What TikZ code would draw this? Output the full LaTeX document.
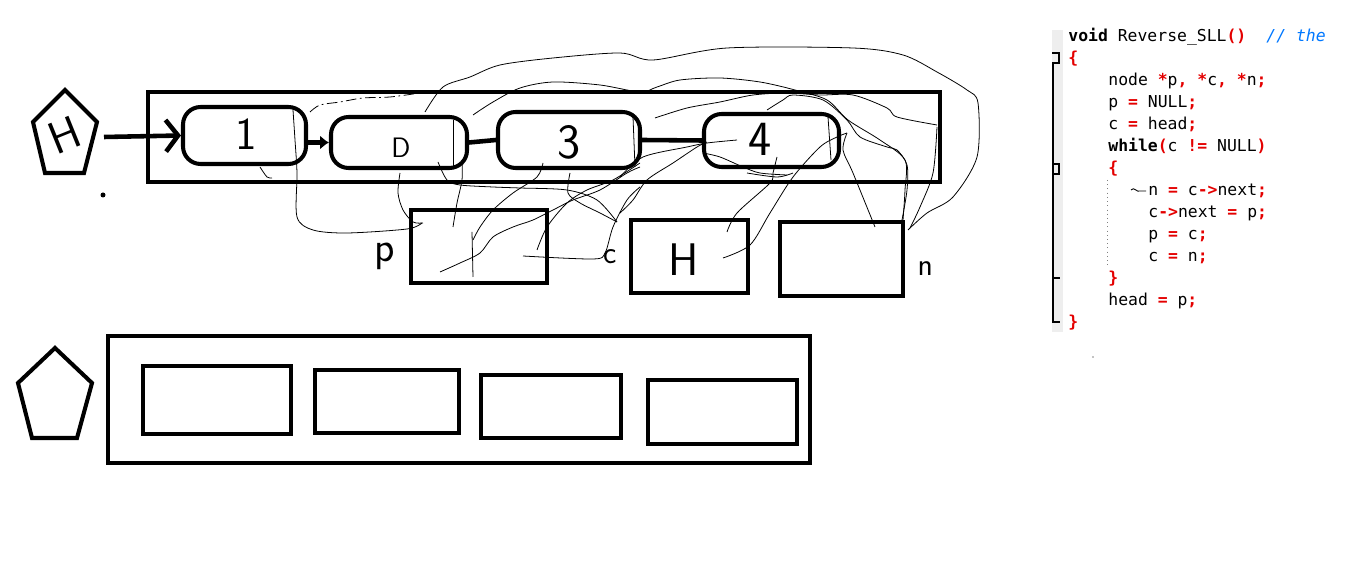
\documentclass[tikz,border=0pt]{standalone}
\usepackage{fontspec}
\setmonofont{DejaVu Sans Mono}
\usetikzlibrary{positioning,arrows.meta}
\definecolor{opred}{RGB}{228,0,0}
\definecolor{cmtblue}{RGB}{0,120,255}
\definecolor{gutgray}{RGB}{238,238,238}
\newcommand{\op}[1]{\textcolor{opred}{\textbf{#1}}}
\tikzset{
  heavy/.style={draw, line width=2.3pt, inner sep=0pt},
  cell/.style={heavy, rounded corners=10pt},
  hand/.style={font=\sffamily\fontsize{#1}{#1}\selectfont, inner sep=0pt},
  link/.style={line width=2.6pt},
  scribble/.style={line width=0.45pt, line join=round},
  codeline/.style={anchor=base west, inner sep=0pt,
    font=\ttfamily\fontsize{9.35}{11}\selectfont},
}

\begin{document}
\begin{tikzpicture}[x=0.02cm, y=-0.02cm]
  \fill[white] (0,0) rectangle (1360,573);
  \useasboundingbox (0,0) rectangle (1360,573);

  % head pentagon and arrow into the list
  \draw[line width=2.3pt] (65,90) -- (97,122) -- (84,173) -- (45,173) -- (33,122) -- cycle;
  \node[hand=26, rotate=22] (hlabel) at (65,135) {H};
  \fill (103,195) circle (2.5);
  \coordinate (hstart) at (104,137);

  % list before reversing
  \node[heavy, minimum width=15.84cm, minimum height=1.8cm] (top) at (544,137) {};
  \node[cell, minimum width=2.46cm, minimum height=1.14cm] (n1) at (244.5,135.5) {};
  \node[cell, minimum width=2.72cm, minimum height=1.02cm] (n2) at (399,142.5) {};
  \node[cell, minimum width=2.84cm, minimum height=1.12cm] (n3) at (569,140) {};
  \node[cell, minimum width=2.70cm, minimum height=1.06cm] (n4) at (771.5,140.5) {};
  \node[hand=26] (one) at (246,134) {1};
  \node[hand=16] (two) at (401,148) {D};
  \node[hand=28] (three) at (569,142) {3};
  \node[hand=28] (four) at (760,139) {4};

  \draw[link, -{Straight Barb[length=7pt, width=18pt]}] (hstart) -- (n1.west);
  \draw[link, -{Latex[length=5pt, width=8pt]}] (n1.east |- n2.west) -- (n2.west);
  \draw[link] (n2.east) -- (n3.west);
  \draw[link] (n3.east) -- (n4.west);

  % pointers p, c, n
  \node[heavy, minimum width=2.72cm, minimum height=1.46cm] (pbox) at (479,246.5) {};
  \node[heavy, minimum width=2.34cm, minimum height=1.46cm] (cbox) at (689.5,256.5) {};
  \node[heavy, minimum width=2.46cm, minimum height=1.48cm] (nbox) at (841.5,259) {};
  \node[hand=24, left=8pt of pbox.west, yshift=-0.2cm] (plabel) {p};
  \node[hand=18, left=7pt of cbox.west] (clabel) {c};
  \node[hand=18, right=7pt of nbox.east, yshift=-0.2cm] (nlabel) {n};
  \node[hand=26] (cval) at (684,260) {H};

  % scribbles
  \draw[scribble, dash pattern=on 6pt off 2pt on 1pt off 2pt] plot[smooth] coordinates {(310,112) (320,105) (340,102) (363,98) (390,97) (420,93)};
  \draw[scribble] plot[smooth] coordinates {(425,112) (443,87) (470,77) (500,65) (553,58) (620,53) (653,60) (727,48) (853,48) (903,55) (937,72) (967,90) (978,103) (977,157) (953,197) (927,213) (908,230)};
  \draw[scribble] plot[smooth] coordinates {(473,115) (493,102) (520,88) (553,82) (600,85) (640,92) (657,87) (680,80) (720,78) (760,82) (795,90) (827,100) (848,120) (880,140) (905,160) (905,190) (903,220)};
  \draw[scribble] plot[smooth] coordinates {(655,118) (687,108) (720,102) (753,95) (787,93) (820,95) (853,95) (887,108) (897,117) (937,125)};
  \draw[scribble] plot[smooth] coordinates {(767,110) (783,100) (793,95) (823,100) (847,120) (860,137) (887,147) (897,150) (907,165) (907,190) (902,220)};
  \draw[scribble] plot[smooth] coordinates {(875,227) (853,173) (843,150) (847,133)};
  \draw[scribble] plot[smooth] coordinates {(723,258) (750,245) (770,213) (793,177) (820,147) (837,137) (847,133)};
  \draw[scribble] plot[smooth] coordinates {(727,232) (737,213) (770,183) (773,173) (777,157)};
  \draw[scribble] plot[smooth] coordinates {(747,173) (777,177) (793,173)};
  \draw[scribble] plot[smooth] coordinates {(620,177) (643,157) (687,147) (707,143) (737,140)};
  \draw[scribble] plot[smooth] coordinates {(703,153) (720,157) (743,167) (760,173) (787,175)};
  \draw[scribble] plot[smooth] coordinates {(620,213) (633,200) (647,180) (673,163) (697,147) (707,142)};
  \draw[scribble] (633,117) -- (635,167);
  \draw[scribble] (828,117) -- (831,160);
  \draw[scribble] plot[smooth] coordinates {(910,228) (920,207) (933,173) (937,127)};
  \draw[scribble] plot[smooth] coordinates {(293,110) (295,140) (297,173) (297,217) (313,230) (347,233) (407,229) (422,223)};
  \draw[scribble] plot[smooth] coordinates {(400,173) (398,193) (403,210) (413,222) (423,223)};
  \draw[scribble] plot[smooth] coordinates {(260,167) (267,177) (272,178)};
  \draw[scribble] (453,120) -- (453,167);
  \draw[scribble] plot[smooth] coordinates {(462,160) (462,180) (457,203) (453,227)};
  \draw[scribble] plot[smooth] coordinates {(438,162) (447,180) (460,185) (493,187) (520,188) (567,190) (597,200) (617,222)};
  \draw[scribble] plot[smooth] coordinates {(543,163) (537,177) (513,193) (493,210) (480,227) (473,240)};
  \draw[scribble] (472,232) -- (473,277);
  \draw[scribble] plot[smooth] coordinates {(440,272) (460,263) (480,253) (493,237) (513,227) (533,220) (553,210) (573,200) (600,190) (627,173) (640,167)};
  \draw[scribble] plot[smooth] coordinates {(537,250) (547,227) (567,203) (587,190) (613,180) (640,163)};
  \draw[scribble] plot[smooth] coordinates {(570,173) (568,193) (580,203) (600,213) (617,222)};
  \draw[scribble] plot[smooth] coordinates {(523,256) (593,259) (605,253) (613,227) (627,200) (640,187)};

  % empty list below
  \draw[line width=2.3pt] (55,348) -- (92,383) -- (77,438) -- (32,438) -- (18,383) -- cycle;
  \node[heavy, minimum width=14.04cm, minimum height=2.54cm] (bottom) at (459,399.5) {};
  \node[heavy, minimum width=2.96cm, minimum height=1.36cm] (b1) at (217,400) {};
  \node[heavy, minimum width=2.88cm, minimum height=1.26cm] (b2) at (387,401.5) {};
  \node[heavy, minimum width=2.80cm, minimum height=1.26cm] (b3) at (551,406.5) {};
  \node[heavy, minimum width=2.98cm, minimum height=1.28cm] (b4) at (722.5,412) {};

  % code listing
  \fill[gutgray] (1052,30) rectangle (1063,332);
  \draw[line width=0.6pt] (1052,53) -- (1059,53) -- (1059,63) -- (1052,63);
  \draw[line width=0.6pt] (1053,63) -- (1053,322) -- (1060,322);
  \draw[line width=0.6pt] (1052,164) -- (1059,164) -- (1059,174) -- (1052,174);
  \draw[line width=0.6pt] (1053,278) -- (1060,278);
  \draw[dotted, gray, line width=0.4pt] (1107,180) -- (1107,268);
  \node[codeline] (l0) at (1068,42) {\textbf{void} Reverse\_SLL\op{()}};
  \begin{scope}
    \clip (1240,20) rectangle (1324,60);
    \node[codeline] (cmt) at (1266,42) {\textcolor{cmtblue}{\itshape // the}};
  \end{scope}
  \node[codeline] (l1) at (1068,64) {\op{\{}};
  \node[codeline] (l2) at (1108,86) {node \op{*}p\op{,} \op{*}c\op{,} \op{*}n\op{;}};
  \node[codeline] (l3) at (1108,108) {p \op{=} NULL\op{;}};
  \node[codeline] (l4) at (1108,130) {c \op{=} head\op{;}};
  \node[codeline] (l5) at (1108,152) {\textbf{while}\op{(}c \op{!=} NULL\op{)}};
  \node[codeline] (l6) at (1108,174) {\op{\{}};
  \draw[line width=0.5pt] (1131,190) .. controls (1134,186) and (1137,193) .. (1140,191) -- (1146,191);
  \node[codeline] (l7) at (1148,196) {n \op{=} c\op{->}next\op{;}};
  \node[codeline] (l8) at (1148,218) {c\op{->}next \op{=} p\op{;}};
  \node[codeline] (l9) at (1148,240) {p \op{=} c\op{;}};
  \node[codeline] (l10) at (1148,262) {c \op{=} n\op{;}};
  \node[codeline] (l11) at (1108,284) {\op{\}}};
  \node[codeline] (l12) at (1108,306) {head \op{=} p\op{;}};
  \node[codeline] (l13) at (1068,328) {\op{\}}};
  \fill (1093,357) circle (0.6);
\end{tikzpicture}
\end{document}
